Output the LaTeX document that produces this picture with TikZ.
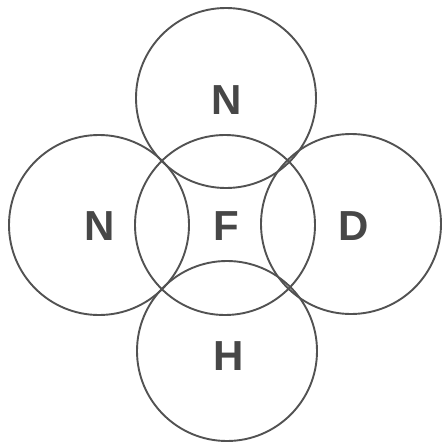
\documentclass[tikz,border=0pt]{standalone}
\usepackage{fontspec}
\setmainfont{Liberation Sans}
\begin{document}
\begin{tikzpicture}[x=1pt,y=-1pt,
  ring/.style={circle,draw=black!68,line width=1.9pt,minimum size=180pt,inner sep=0pt},
  lbl/.style={text=black!72,font=\fontsize{42}{42}\selectfont\bfseries,inner sep=0pt}]
\useasboundingbox (0,0) rectangle (443,444);
\node[ring] (c) at (225,225) {};
\node[ring] (t) at (226,98) {};
\node[ring] (l) at (99,225) {};
\node[ring] (r) at (351,224) {};
\node[ring] (b) at (227,351) {};
\node[lbl] (lt) at (227,100) {N};
\node[lbl] (ll) at (100,226) {N};
\node[lbl] (lc) at (226,226) {F};
\node[lbl] (lr) at (354,226) {D};
\node[lbl] (lb) at (229,356) {H};
\end{tikzpicture}
\end{document}
